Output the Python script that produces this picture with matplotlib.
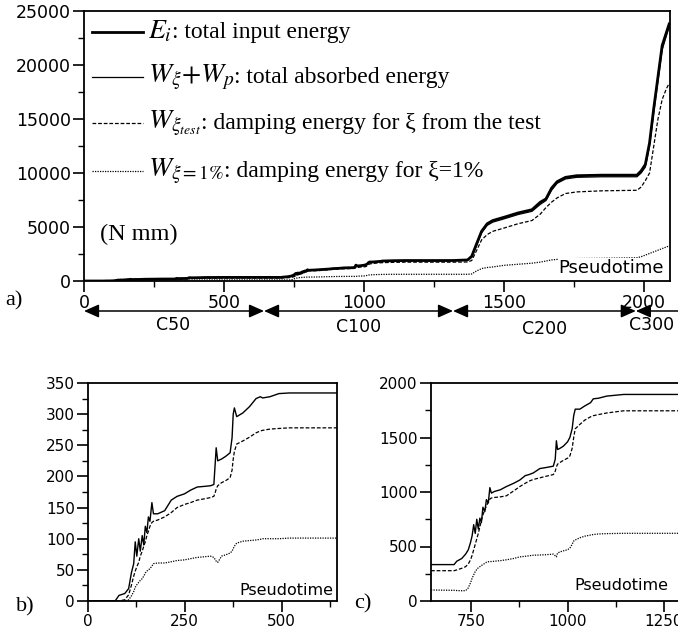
import matplotlib
matplotlib.use("Agg")
import matplotlib.pyplot as plt
from matplotlib.ticker import MultipleLocator
import numpy as np

plt.rcParams['mathtext.fontset'] = 'stix'
plt.rcParams['font.family'] = ['DejaVu Sans']

# ---- data ----
# panel b) : C50 segment (pseudotime 0..643)
t_b = [0, 70, 80, 95, 105, 112, 118, 122, 126, 131, 135, 140, 144, 148, 152, 156, 160, 165, 169, 180,
       198, 215, 230, 249, 265, 282, 300, 316, 325, 329, 331, 335, 345, 355, 367, 372, 375, 378, 384, 400,
       417, 434, 445, 451, 470, 493, 520, 643]
E_b = [0, 0, 9, 12, 20, 45, 60, 95, 72, 100, 80, 105, 90, 120, 110, 135, 128, 158, 140, 140,
       145, 162, 168, 172, 178, 183, 184, 185, 187, 226, 246, 225, 228, 232, 238, 262, 300, 310, 296, 302,
       312, 325, 328, 326, 328, 333, 334, 334]
Wt_b = [0, 0, 0, 2, 10, 25, 40, 48, 55, 62, 72, 80, 88, 95, 105, 112, 120, 126, 128, 130,
        135, 142, 150, 155, 158, 162, 164, 166, 168, 175, 180, 185, 190, 193, 198, 210, 228, 240, 252, 257,
        263, 270, 273, 274, 276, 277, 278, 278]
W1_b = [0, 0, 0, 0, 2, 8, 15, 22, 26, 30, 33, 36, 40, 45, 48, 50, 52, 56, 60, 61,
        61, 63, 65, 66, 68, 70, 71, 72, 70, 66, 64, 62, 72, 74, 77, 80, 84, 88, 93, 96,
        97, 98, 99, 100, 100, 100, 101, 101]

# panel c) : C100 segment
t_c = [645, 705, 712, 725, 735, 742, 748, 752, 756, 760, 764, 768, 772, 776, 780, 785, 789, 794, 798, 802,
       810, 825, 841, 860, 876, 890, 900, 911, 928, 945, 963, 968, 971, 974, 980, 989, 1000, 1006, 1012, 1016,
       1020, 1032, 1045, 1060, 1067, 1080, 1102, 1146, 1295]
E_c = [334, 334, 365, 390, 430, 470, 540, 600, 700, 620, 750, 660, 760, 720, 860, 820, 930, 900, 1040, 990,
       1005, 1020, 1050, 1080, 1110, 1150, 1160, 1175, 1215, 1225, 1237, 1300, 1470, 1390, 1400, 1420, 1460, 1500, 1580, 1700,
       1760, 1760, 1790, 1820, 1855, 1860, 1880, 1895, 1895]
Wt_c = [278, 278, 285, 300, 315, 340, 380, 420, 470, 520, 570, 620, 680, 740, 790, 840, 870, 910, 935, 945,
        950, 955, 965, 1010, 1050, 1080, 1100, 1115, 1130, 1145, 1160, 1190, 1230, 1255, 1270, 1290, 1310, 1330, 1400, 1500,
        1580, 1620, 1660, 1690, 1700, 1710, 1725, 1745, 1745]
W1_c = [101, 98, 96, 94, 95, 120, 170, 210, 240, 270, 290, 305, 315, 325, 335, 345, 355, 360, 362, 362,
        365, 370, 378, 390, 405, 410, 415, 420, 422, 425, 430, 415, 405, 440, 450, 460, 470, 485, 520, 550,
        560, 580, 595, 605, 610, 615, 618, 621, 621]

# rest of the test (C200, C300), only in panel a)
t_tail = [1320, 1370, 1385, 1400, 1420, 1440, 1460, 1500, 1550, 1600, 1630, 1650, 1670, 1690, 1720,
          1760, 1850, 1975, 1990, 2005, 2020, 2035, 2050, 2065, 2080, 2090]
E_tail = [1900, 1950, 2300, 3300, 4600, 5300, 5600, 5900, 6300, 6600, 7300, 7600, 8600, 9200, 9600,
          9750, 9800, 9800, 10200, 10800, 12800, 16000, 18900, 21800, 23000, 23800]
Wa_tail = [1880, 1930, 2200, 3150, 4450, 5150, 5450, 5750, 6150, 6450, 7100, 7450, 8400, 9050, 9450,
           9600, 9650, 9650, 10000, 10550, 12500, 15600, 18500, 21400, 22700, 23500]
Wt_tail = [1745, 1760, 1900, 2700, 3800, 4300, 4600, 4900, 5300, 5600, 6200, 6800, 7300, 7700, 8100,
           8250, 8350, 8400, 8700, 9300, 10000, 12500, 15000, 16800, 17800, 18300]
W1_tail = [621, 621, 650, 900, 1150, 1250, 1300, 1450, 1550, 1650, 1750, 1850, 1950, 2000, 2050,
           2080, 2100, 2150, 2250, 2400, 2550, 2700, 2850, 3000, 3150, 3250]

stages = ['C50', 'C100', 'C200', 'C300']
stage_edges = [0, 643, 1318, 1971, 2220]

legend_math = [r"$E_{i}$", r"$W_{\xi}{+}W_{p}$", r"$W_{\xi_{test}}$", r"$W_{\xi=\mathit{1\%}}$"]
legend_desc = [": total input energy", ": total absorbed energy",
               ": damping energy for \u03be from the test", ": damping energy for \u03be=1%"]

# full series for panel a)
t_a = t_b + t_c + t_tail
E_a = E_b + E_c + E_tail
Wa_a = E_b + E_c + Wa_tail
Wt_a = Wt_b + Wt_c + Wt_tail
W1_a = W1_b + W1_c + W1_tail

W, H = 678, 638
fig = plt.figure(figsize=(W / 100, H / 100), dpi=100)


def box(l, t, r, b):
    return [l / W, 1 - b / H, (r - l) / W, (b - t) / H]


ax_a = fig.add_axes(box(84, 11, 670, 281))
ax_b = fig.add_axes(box(88, 383, 337, 601))
ax_c = fig.add_axes(box(431, 383, 681, 601))

serif = 'Liberation Serif'


def style(ax, size):
    for s in ax.spines.values():
        s.set_linewidth(1.3)
    ax.tick_params(which='major', direction='out', length=8, width=1.2, labelsize=size, pad=1.5)
    ax.tick_params(which='minor', direction='out', length=4, width=1.0)


# panel a
ax_a.plot(t_a, E_a, color='black', lw=2.0)
ax_a.plot(t_a, Wa_a, color='black', lw=0.9)
ax_a.plot(t_a, Wt_a, color='black', lw=0.9, ls=(0, (3, 1.5)))
ax_a.plot(t_a, W1_a, color='black', lw=0.9, ls=(0, (1, 1)))
ax_a.set_xlim(0, 2093)
ax_a.set_ylim(0, 25000)
ax_a.xaxis.set_major_locator(MultipleLocator(500))
ax_a.xaxis.set_minor_locator(MultipleLocator(250))
ax_a.yaxis.set_major_locator(MultipleLocator(5000))
ax_a.yaxis.set_minor_locator(MultipleLocator(2500))
style(ax_a, 12.5)
ax_a.text(0.99, 0.015, 'Pseudotime', transform=ax_a.transAxes, ha='right', va='bottom',
          fontsize=13, bbox=dict(facecolor='white', edgecolor='none', pad=0.5))
ax_a.text(0.027, 0.152, '(N mm)', transform=ax_a.transAxes, family=serif, fontsize=17.5,
          va='baseline')

# hand-made legend: line, big math symbol, smaller description
line_y = [0.922, 0.756, 0.585, 0.407]
line_w = [2.0, 0.9, 0.9, 0.9]
line_s = ['-', '-', (0, (3, 1.5)), (0, (1, 1))]
renderer = fig.canvas.get_renderer()
for k in range(4):
    ax_a.plot([0.0137, 0.1007], [line_y[k], line_y[k]], transform=ax_a.transAxes,
              color='black', lw=line_w[k], ls=line_s[k])
    yb = line_y[k] - 6 / 270
    tm = ax_a.text(0.109, yb, legend_math[k], transform=ax_a.transAxes, fontsize=20,
                   va='baseline', ha='left')
    bb = tm.get_window_extent(renderer=renderer)
    x1 = ax_a.transAxes.inverted().transform((bb.x1, bb.y0))[0]
    ax_a.text(x1, yb, legend_desc[k], transform=ax_a.transAxes, family=serif,
              fontsize=17, va='baseline', ha='left')

# stage arrows under panel a
xt = ax_a.get_xaxis_transform()
ya = -30 / 270
for k, name in enumerate(stages):
    ax_a.annotate('', xy=(stage_edges[k + 1], ya), xytext=(stage_edges[k], ya), xycoords=xt,
                  textcoords=xt, annotation_clip=False,
                  arrowprops=dict(arrowstyle='<|-|>,head_length=0.45,head_width=0.2',
                                  mutation_scale=20, color='black', lw=1.1,
                                  shrinkA=0, shrinkB=0))
mid = [318, 982, 1646, 2028]
lab_y = [-44 / 270, -46 / 270, -48 / 270, -44 / 270]
for k, name in enumerate(stages):
    ax_a.text(mid[k], lab_y[k], name, transform=xt, ha='center', va='center',
              fontsize=12.5, clip_on=False)

# panel b
ax_b.plot(t_b, E_b, color='black', lw=1.0)
ax_b.plot(t_b, Wt_b, color='black', lw=0.9, ls=(0, (3, 1.5)))
ax_b.plot(t_b, W1_b, color='black', lw=0.9, ls=(0, (1, 1)))
ax_b.set_xlim(0, 643)
ax_b.set_ylim(0, 350)
ax_b.xaxis.set_major_locator(MultipleLocator(250))
ax_b.xaxis.set_minor_locator(MultipleLocator(125))
ax_b.yaxis.set_major_locator(MultipleLocator(50))
ax_b.yaxis.set_minor_locator(MultipleLocator(25))
style(ax_b, 11)
ax_b.text(0.984, 0.028, 'Pseudotime', transform=ax_b.transAxes, ha='right', va='baseline',
          fontsize=11.5, bbox=dict(facecolor='white', edgecolor='none', pad=0.5))

# panel c
ax_c.plot(t_c, E_c, color='black', lw=1.0)
ax_c.plot(t_c, Wt_c, color='black', lw=0.9, ls=(0, (3, 1.5)))
ax_c.plot(t_c, W1_c, color='black', lw=0.9, ls=(0, (1, 1)))
ax_c.set_xlim(645, 1295)
ax_c.set_ylim(0, 2000)
ax_c.xaxis.set_major_locator(MultipleLocator(250))
ax_c.xaxis.set_minor_locator(MultipleLocator(125))
ax_c.yaxis.set_major_locator(MultipleLocator(500))
ax_c.yaxis.set_minor_locator(MultipleLocator(250))
style(ax_c, 11)
ax_c.text(0.948, 0.05, 'Pseudotime', transform=ax_c.transAxes, ha='right', va='baseline',
          fontsize=11.5, bbox=dict(facecolor='white', edgecolor='none', pad=0.5))

# panel letters
fig.text(5 / W, 1 - 305 / H, 'a)', family=serif, fontsize=16, va='baseline')
fig.text(16 / W, 1 - 611 / H, 'b)', family=serif, fontsize=16, va='baseline')
fig.text(354 / W, 1 - 608 / H, 'c)', family=serif, fontsize=16, va='baseline')

fig.savefig('out.png', dpi=100)
